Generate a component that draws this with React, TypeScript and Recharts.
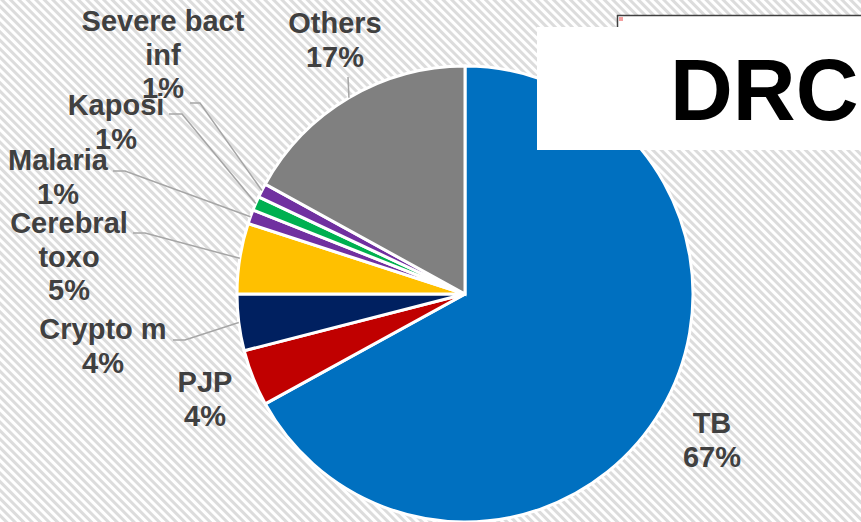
import React from "react";
import { PieChart, Pie, Cell } from "recharts";

const names = ["TB", "PJP", "Crypto m", "Cerebral toxo", "Malaria", "Kaposi", "Severe bact inf", "Others"];
const values = [67, 4, 4, 5, 1, 1, 1, 17];
const labelLines = [["TB"], ["PJP"], ["Crypto m"], ["Cerebral", "toxo"], ["Malaria"], ["Kaposi"], ["Severe bact", "inf"], ["Others"]];
const colors = ["#0070C0", "#C00000", "#002060", "#FFC000", "#7030A0", "#00B050", "#7030A0", "#808080"];

const data = names.map((name, i) => ({ name, value: values[i] }));

// label placement relative to pie centre: text centre + first baseline, optional leader start/elbow
const labelLayout: { dx: number; dy: number; line?: number[][] }[] = [
  { dx: 247, dy: 139 },
  { dx: -260, dy: 98 },
  { dx: -362, dy: 45, line: [[-292, 46], [-280, 46]] },
  { dx: -396, dy: -61, line: [[-332, -61], [-320, -61]] },
  { dx: -407, dy: -124, line: [[-352, -123], [-340, -123]] },
  { dx: -349, dy: -179, line: [[-296, -180], [-283, -180]] },
  { dx: -302, dy: -263, line: [[-275, -191], [-265, -191]] },
  { dx: -130, dy: -261, line: [[-117, -217]] },
];

const RADIAN = Math.PI / 180;
const W = 861;
const H = 522;

const renderLabel = (props: any) => {
  const { cx, cy, midAngle, outerRadius, index } = props;
  const lay = labelLayout[index];
  const lines = [...labelLines[index], `${values[index]}%`];
  const tx = cx + lay.dx;
  const ty = cy + lay.dy;
  let leader = null;
  if (lay.line) {
    const ex = cx + outerRadius * Math.cos(-midAngle * RADIAN);
    const ey = cy + outerRadius * Math.sin(-midAngle * RADIAN);
    const pts = [...lay.line.map(([x, y]) => `${cx + x},${cy + y}`), `${ex},${ey}`].join(" ");
    leader = <polyline points={pts} fill="none" stroke="#A6A6A6" strokeWidth={1.5} />;
  }
  return (
    <g key={`lbl-${index}`}>
      {leader}
      <text
        x={tx}
        y={ty}
        textAnchor="middle"
        fill="#404040"
        fontSize={29}
        fontWeight="bold"
        fontFamily="'Liberation Sans', Arial, sans-serif"
      >
        {lines.map((t, i) => (
          <tspan key={i} x={tx} y={ty + i * 33.5}>
            {t}
          </tspan>
        ))}
      </text>
    </g>
  );
};

export default function App() {
  return (
    <div style={{ position: "absolute", left: 0, top: 0, width: W, height: H, overflow: "hidden", background: "#fff" }}>
      <svg width={W} height={H} style={{ position: "absolute", left: 0, top: 0 }}>
        <defs>
          <pattern id="stripes" width={6} height={6} patternUnits="userSpaceOnUse" patternTransform="rotate(-45)">
            <rect width={3} height={6} fill="#dcdcdc" />
          </pattern>
        </defs>
        <rect width={W} height={H} fill="url(#stripes)" />
      </svg>
      <div style={{ position: "absolute", left: 0, top: 0 }}>
        <PieChart width={W} height={H} margin={{ top: 0, right: 0, bottom: 0, left: 0 }}>
          <Pie
            data={data}
            dataKey="value"
            nameKey="name"
            cx={465}
            cy={294}
            outerRadius={228}
            startAngle={90}
            endAngle={-270}
            stroke="#ffffff"
            strokeWidth={3}
            label={renderLabel}
            labelLine={false}
            isAnimationActive={false}
          >
            {data.map((d, i) => (
              <Cell key={d.name} fill={colors[i]} />
            ))}
          </Pie>
        </PieChart>
      </div>
      <svg width={W} height={H} style={{ position: "absolute", left: 0, top: 0, pointerEvents: "none" }}>
        <rect x={617.5} y={15.5} width={300} height={100} fill="#fff" stroke="#404040" strokeWidth={1.5} />
        <rect x={619} y={17} width={4} height={4} fill="#f4a0a0" />
        <rect x={537} y={27} width={330} height={123} fill="#fff" />
        <text
          x={670}
          y={120}
          fill="#000"
          fontSize={87}
          fontWeight="bold"
          fontFamily="'Liberation Sans', Arial, sans-serif"
        >
          DRC
        </text>
      </svg>
    </div>
  );
}
